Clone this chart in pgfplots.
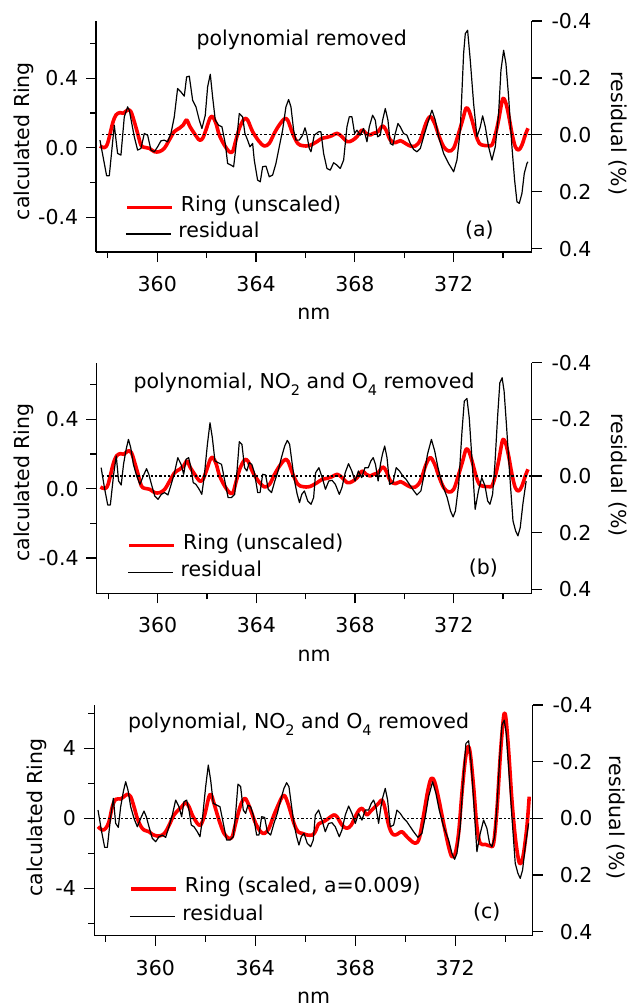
\documentclass[border=0pt]{standalone}
\usepackage{fontspec}
\setmainfont{DejaVu Sans}
\usepackage{pgfplots}
\usepackage{pgfplotstable}
\pgfplotsset{compat=1.18}

\pgfplotstableread{
x y
357.680 0.0186
357.950 0.1437
358.058 0.1437
358.260 -0.0340
358.395 0.0654
358.530 0.0712
358.665 -0.0633
358.800 -0.0984
358.868 -0.0866
359.070 0.0069
359.205 0.0537
359.340 0.0478
359.475 -0.0048
359.610 0.0011
359.745 0.0537
359.880 0.0595
360.015 0.0420
360.150 0.0209
360.285 0.0186
360.420 0.0244
360.554 -0.0048
360.689 -0.0633
360.824 -0.1627
360.959 -0.1510
361.094 -0.1358
361.189 -0.2036
361.297 -0.2060
361.432 -0.1218
361.567 -0.0984
361.702 -0.0516
361.809 -0.0223
361.944 -0.0691
362.039 -0.1685
362.147 -0.2130
362.241 -0.1334
362.349 -0.0516
362.484 -0.0340
362.619 -0.0282
362.754 0.0303
362.849 0.1005
362.984 0.1063
363.092 0.1122
363.186 0.0420
363.321 -0.0750
363.456 -0.0633
363.550 -0.0048
363.658 0.0186
363.753 0.0420
363.861 0.0303
363.928 0.0888
364.063 0.1590
364.171 0.1648
364.266 0.1122
364.401 0.1098
364.535 0.1473
364.670 0.1414
364.805 0.1005
364.940 0.0420
365.075 -0.0165
365.210 -0.0984
365.318 -0.1241
365.413 -0.0984
365.521 -0.0165
365.615 0.0186
365.750 0.0186
365.885 0.0011
365.980 -0.0247
366.047 -0.0048
366.155 0.0478
366.222 0.0595
366.357 0.0011
366.533 -0.0106
366.627 -0.0106
366.735 0.0654
366.870 0.1180
367.005 0.1239
367.140 0.0981
367.275 0.1063
367.410 0.1180
367.545 0.0888
367.680 -0.0282
367.774 -0.0633
367.882 -0.0633
367.990 -0.0048
368.085 -0.0165
368.220 0.0011
368.355 -0.0223
368.490 0.0244
368.584 -0.0282
368.719 -0.0691
368.827 -0.0516
368.922 0.0069
369.030 0.0011
369.124 -0.0516
369.232 -0.0925
369.340 -0.0516
369.434 0.0303
369.542 0.0361
369.637 -0.0048
369.745 -0.0399
369.839 -0.0282
369.974 -0.0048
370.109 0.0011
370.244 0.0303
370.379 0.0513
370.514 0.0595
370.649 0.0478
370.784 0.0069
370.986 -0.0516
371.121 -0.0867
371.256 -0.0516
371.391 0.0069
371.594 0.0654
371.796 0.1005
371.999 0.1297
372.133 0.0888
372.268 -0.0165
372.403 -0.2855
372.471 -0.3557
372.565 -0.3674
372.673 -0.2621
372.808 -0.1101
372.943 0.0069
373.078 -0.0282
373.173 -0.0668
373.281 -0.0282
373.415 0.0420
373.550 0.0888
373.685 0.0420
373.820 -0.0750
373.915 -0.2270
374.023 -0.2972
374.117 -0.2504
374.225 -0.1334
374.360 0.0420
374.468 0.1590
374.563 0.2350
374.657 0.2408
374.765 0.2057
374.859 0.1355
374.967 0.1005
375.008 0.0947
}\resA

\pgfplotstableread{
x y
357.680 0.0098
357.855 0.0002
357.990 0.0252
358.193 0.1404
358.328 0.1885
358.490 0.2019
358.625 0.1981
358.800 0.2173
358.935 0.2077
359.070 0.1500
359.205 0.0828
359.340 0.0156
359.475 0.0021
359.677 -0.0036
359.880 -0.0228
360.082 -0.0228
360.285 -0.0036
360.487 0.0444
360.689 0.0925
360.892 0.1117
361.054 0.1309
361.189 0.1597
361.324 0.1213
361.499 0.0828
361.702 0.0444
361.836 0.0540
361.971 0.1020
362.133 0.1693
362.241 0.1789
362.376 0.1405
362.511 0.0732
362.714 0.0156
362.916 -0.0228
363.051 -0.0228
363.186 0.0444
363.348 0.1213
363.523 0.1655
363.658 0.1597
363.861 0.0925
364.131 0.0348
364.333 0.0098
364.535 0.0252
364.738 0.0828
364.940 0.1309
365.143 0.1655
365.278 0.1597
365.480 0.0828
365.683 0.0252
365.885 0.0117
366.155 0.0117
366.465 0.0348
366.668 0.0540
366.870 0.0598
367.073 0.0694
367.275 0.0828
367.478 0.0636
367.680 0.0348
367.882 0.0406
368.085 0.0636
368.287 0.1020
368.449 0.0828
368.625 0.0732
368.760 0.0828
368.935 0.0925
369.124 0.1251
369.259 0.1020
369.434 0.0444
369.637 0.0290
369.839 0.0406
370.042 0.0252
370.244 0.0098
370.447 0.0098
370.649 0.0444
370.878 0.1404
371.054 0.1789
371.229 0.1404
371.391 0.0732
371.594 0.0060
371.796 -0.0190
371.999 -0.0036
372.201 0.0828
372.363 0.1597
372.498 0.2270
372.606 0.2173
372.741 0.1597
372.903 0.0732
373.038 0.0252
373.213 0.0136
373.416 0.0117
373.550 0.0156
373.685 0.0732
373.820 0.1597
373.955 0.2654
374.023 0.2846
374.117 0.2557
374.225 0.1885
374.360 0.0828
374.495 0.0060
374.630 -0.0132
374.765 0.0156
374.900 0.0732
375.008 0.1117
}\ringAB

\pgfplotstableread{
x y
357.708 -0.0293
357.841 0.0413
357.975 0.1023
358.081 0.1023
358.215 -0.0058
358.321 -0.0704
358.415 0.0178
358.521 0.0319
358.615 -0.0410
358.721 -0.0939
358.815 -0.1292
358.908 -0.0998
359.015 -0.0410
359.148 0.0001
359.281 0.0295
359.415 0.0001
359.548 -0.0257
359.641 -0.0058
359.748 0.0295
359.881 0.0707
360.015 0.0824
360.148 0.0648
360.281 0.0589
360.415 0.0671
360.548 0.0295
360.681 -0.0116
360.815 -0.0646
360.948 -0.0410
361.055 -0.0058
361.148 -0.0587
361.255 -0.0646
361.348 -0.0293
361.441 0.0236
361.548 0.0295
361.681 0.0471
361.788 0.0648
361.881 0.0060
362.015 -0.1116
362.121 -0.1880
362.215 -0.1351
362.321 -0.0528
362.455 -0.0469
362.588 -0.0410
362.721 0.0178
362.855 0.0765
362.988 0.0765
363.121 0.0648
363.215 -0.0175
363.308 -0.1210
363.415 -0.1116
363.521 -0.0293
363.615 -0.0175
363.708 -0.0469
363.815 -0.0410
363.921 -0.0116
364.055 0.0589
364.148 0.0589
364.255 -0.0058
364.375 -0.0034
364.481 0.0471
364.615 0.0589
364.748 0.0178
364.881 -0.0175
365.015 -0.0646
365.148 -0.1057
365.255 -0.1257
365.348 -0.1116
365.455 -0.0410
365.548 0.0178
365.655 0.0648
365.748 0.0942
365.841 0.0648
365.948 0.0530
366.081 0.0883
366.215 0.1000
366.321 0.0765
366.401 -0.0116
366.535 -0.0293
366.668 0.0060
366.801 0.0471
366.935 0.0178
367.068 0.0154
367.201 0.0295
367.361 0.0648
367.468 0.0413
367.601 -0.0116
367.735 -0.0434
367.868 -0.0175
368.001 0.0178
368.135 -0.0175
368.268 0.0060
368.401 -0.0293
368.535 -0.0293
368.641 -0.0528
368.735 -0.0646
368.828 -0.0410
368.935 0.0178
369.028 -0.0410
369.108 -0.0763
369.201 -0.1057
369.295 -0.0646
369.401 0.0295
369.535 0.0236
369.668 -0.0293
369.801 -0.0175
369.935 0.0001
370.068 0.0119
370.201 0.0295
370.335 0.0471
370.508 0.0671
370.668 0.0530
370.801 -0.0058
370.935 -0.0763
371.095 -0.1292
371.228 -0.0881
371.361 -0.0293
371.535 0.0295
371.735 0.0765
371.868 0.1235
371.975 0.1447
372.068 0.1235
372.201 0.0295
372.335 -0.1586
372.428 -0.2644
372.535 -0.2738
372.628 -0.2056
372.735 -0.0646
372.868 0.1177
373.001 0.0530
373.135 0.0060
373.268 0.0354
373.375 0.0883
373.468 0.1000
373.575 0.0648
373.668 -0.0410
373.775 -0.2056
373.868 -0.3291
373.961 -0.3467
374.041 -0.2997
374.135 -0.1822
374.268 -0.0058
374.401 0.1588
374.508 0.1940
374.601 0.2117
374.695 0.1823
374.801 0.1000
374.935 0.0178
}\resBC

\pgfplotstableread{
x y
357.708 -0.478
357.881 -0.668
358.015 -0.573
358.148 -0.192
358.281 0.665
358.415 1.084
358.615 1.103
358.748 1.236
358.881 1.370
359.015 1.236
359.148 0.665
359.281 -0.002
359.415 -0.440
359.548 -0.668
359.748 -0.764
359.881 -0.916
360.081 -1.011
360.281 -0.954
360.415 -0.764
360.588 -0.288
360.748 0.189
360.948 0.512
361.081 0.703
361.215 0.893
361.348 0.665
361.481 0.189
361.681 -0.288
361.815 -0.383
361.975 0.189
362.148 1.236
362.241 1.332
362.348 0.855
362.548 -0.097
362.748 -0.859
362.948 -1.145
363.081 -1.050
363.215 -0.288
363.415 0.760
363.575 1.141
363.681 0.951
363.815 0.474
364.015 -0.288
364.215 -0.764
364.375 -0.859
364.548 -0.573
364.748 0.189
364.948 0.855
365.081 1.236
365.188 1.274
365.348 0.665
365.548 -0.288
365.708 -0.764
365.881 -0.859
366.081 -0.954
366.281 -0.954
366.401 -0.764
366.535 -0.326
366.735 -0.192
366.935 -0.002
367.135 0.189
367.268 0.093
367.468 -0.383
367.668 -0.573
367.841 -0.383
368.001 0.093
368.135 0.436
368.268 0.570
368.375 0.379
368.468 0.189
368.601 0.379
368.735 0.570
368.935 0.855
369.068 1.046
369.175 0.665
369.335 -0.383
369.468 -0.859
369.601 -0.954
369.735 -0.859
369.868 -0.764
370.001 -0.954
370.201 -1.240
370.401 -1.430
370.561 -1.145
370.735 0.189
370.908 1.617
371.041 2.284
371.175 2.093
371.335 1.141
371.535 -0.288
371.735 -1.621
371.868 -2.192
372.001 -2.002
372.135 -0.859
372.268 1.427
372.401 3.331
372.508 4.093
372.601 3.712
372.735 1.808
372.868 -0.478
373.001 -1.430
373.201 -1.488
373.401 -1.583
373.535 -1.430
373.668 0.474
373.801 3.522
373.895 5.236
373.961 5.998
374.028 5.712
374.135 3.903
374.268 1.046
374.401 -1.050
374.535 -2.383
374.628 -2.573
374.735 -2.002
374.868 -0.478
374.961 1.236
}\ringC

\newcommand{\sub}[1]{\raisebox{-7pt}{\fontsize{14.5}{15}\selectfont #1}}

\pgfplotsset{
  igor/.style={
    scale only axis,
    anchor=south west,
    font=\fontsize{20.5}{24}\selectfont,
    axis line style={line width=1.2pt,-},
    tick style={line width=1.2pt,black},
    tick align=outside,
    major tick length=10pt,
    minor tick length=6pt,
    clip=false,
    legend cell align=left,
    legend image code/.code={\draw[#1,line cap=butt] (0pt,0pt) -- (45pt,0pt);},
    legend style={draw=none, fill=none, inner sep=0pt, anchor=west,
      column sep=7pt,
      nodes={inner sep=0pt, text height=0.76em, text depth=0pt}},
  },
  leftax/.style={igor,
    axis x line*=bottom, axis y line*=left,
    xtick={360,364,368,372}, xticklabels={360,364,368,372},
    minor xtick={358,362,366,370,374},
    xticklabel style={anchor=north, inner sep=0pt, yshift=-14pt},
    yticklabel style={anchor=east, inner sep=0pt, xshift=-7.7pt},
    xlabel={nm},
    xlabel style={at={(axis description cs:0.5,0)}, anchor=center, yshift=-62pt},
    ylabel={calculated Ring},
  },
  rightax/.style={igor,
    axis x line=none, axis y line*=right, y dir=reverse,
    ytick={-0.4,-0.2,0,0.2,0.4}, yticklabels={-0.4,-0.2,0.0,0.2,0.4},
    yticklabel style={anchor=east, inner sep=0pt, xshift=50pt},
    ylabel={residual (\%)},
  },
  ringline/.style={red, line width=3.6pt, smooth, tension=0.55, line join=round},
  resline/.style={black, line width=1.2pt, line join=round},
  zeroline/.style={black, line width=1.2pt, dash pattern=on 2.2pt off 2.2pt, forget plot},
}

\begin{document}
\begin{tikzpicture}
\path[use as bounding box] (0pt,0pt) rectangle (629pt,-1008pt);

% ---------------- (a)
\begin{axis}[leftax, at={(96pt,-252pt)}, width=435.7pt, height=231pt,
  xmin=357.52, xmax=375.16, ymin=-0.601, ymax=0.730,
  ytick={-0.4,0,0.4}, yticklabels={-0.4,0.0,0.4}, minor ytick={-0.2,0.2,0.6},
  ylabel style={at={(axis description cs:-0.165,0.48)}, anchor=center},
  legend style={at={(axis description cs:0.0666,0.1935)}}]
\addplot[ringline] table {\ringAB};
\addlegendentry{Ring (unscaled)}
\end{axis}
\begin{axis}[rightax, at={(96pt,-252pt)}, width=435.7pt, height=231pt,
  xmin=357.52, xmax=375.16, ymin=-0.4, ymax=0.4116,
  ylabel style={at={(axis description cs:1.197,0.513)}, anchor=center, rotate=180},
  legend style={at={(axis description cs:0.0666,0.0779)}}]
\addplot[zeroline] coordinates {(357.75,0) (375.16,0)};
\addplot[resline] table {\resA};
\addlegendentry{residual}
\node[anchor=base] at (axis description cs:0.472,0.893) {polynomial removed};
\node at (axis description cs:0.880,0.095) {(a)};
\end{axis}

% ---------------- (b)
\begin{axis}[leftax, at={(96.5pt,-593.3pt)}, width=435.2pt, height=230.6pt,
  xmin=357.52, xmax=375.16, ymin=-0.603, ymax=0.726,
  ytick={-0.4,0,0.4}, yticklabels={-0.4,0.0,0.4}, minor ytick={-0.2,0.2,0.6},
  ylabel style={at={(axis description cs:-0.166,0.48)}, anchor=center},
  legend style={at={(axis description cs:0.0708,0.2065)}}]
\addplot[ringline] table {\ringAB};
\addlegendentry{Ring (unscaled)}
\end{axis}
\begin{axis}[rightax, at={(96.5pt,-593.3pt)}, width=435.2pt, height=230.6pt,
  xmin=357.52, xmax=375.16, ymin=-0.400, ymax=0.4145,
  ylabel style={at={(axis description cs:1.197,0.513)}, anchor=center, rotate=180},
  legend style={at={(axis description cs:0.0708,0.0911)}}]
\addplot[zeroline] coordinates {(357.75,0) (375.16,0)};
\addplot[resline] table {\resBC};
\addlegendentry{residual}
\node[anchor=base] at (axis description cs:0.477,0.889) {polynomial, NO\sub{2} and O\sub{4} removed};
\node at (axis description cs:0.889,0.108) {(b)};
\end{axis}

% ---------------- (c)
\begin{axis}[leftax, at={(94.3pt,-935.7pt)}, width=438.4pt, height=230.7pt,
  xmin=357.56, xmax=375.10, ymin=-6.709, ymax=6.474,
  ytick={-4,0,4}, yticklabels={-4,0,4}, minor ytick={-6,-2,2,6},
  yticklabel style={xshift=-0.6pt},
  ylabel style={at={(axis description cs:-0.132,0.512)}, anchor=center},
  legend style={at={(axis description cs:0.0792,0.2025)}}]
\addplot[ringline] table {\ringC};
\addlegendentry{Ring (scaled, a=0.009)}
\end{axis}
\begin{axis}[rightax, at={(94.3pt,-935.7pt)}, width=438.4pt, height=230.7pt,
  xmin=357.56, xmax=375.10, ymin=-0.4, ymax=0.4141,
  ylabel style={at={(axis description cs:1.19,0.512)}, anchor=center, rotate=180},
  legend style={at={(axis description cs:0.0792,0.0841)}}]
\addplot[zeroline] coordinates {(357.75,0) (375.10,0)};
\addplot[resline] table {\resBC};
\addlegendentry{residual}
\node[anchor=base] at (axis description cs:0.466,0.899) {polynomial, NO\sub{2} and O\sub{4} removed};
\node at (axis description cs:0.895,0.103) {(c)};
\end{axis}
\end{tikzpicture}
\end{document}
